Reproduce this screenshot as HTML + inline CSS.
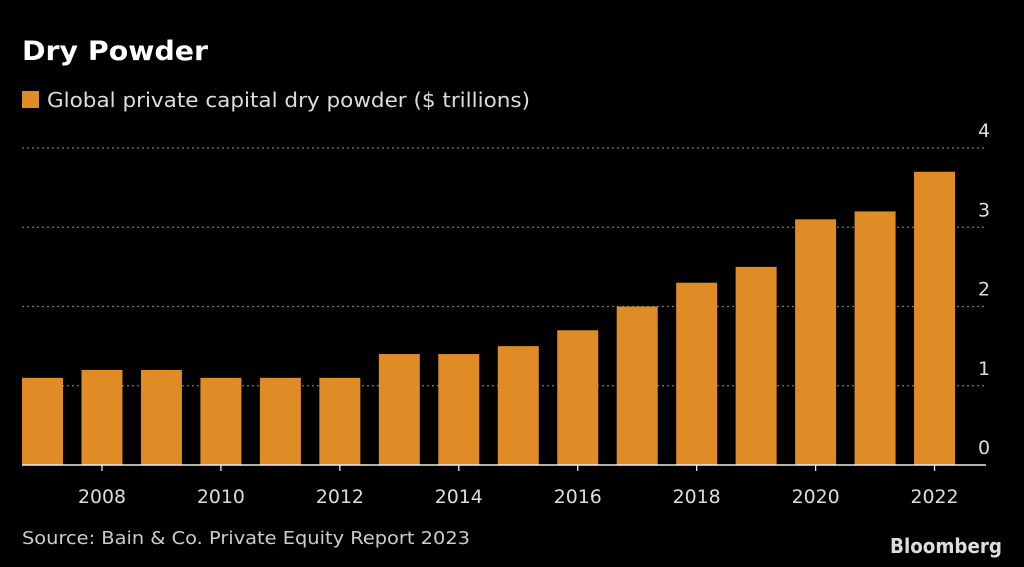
<!DOCTYPE html>
<html><head><meta charset="utf-8"><style>
html,body{margin:0;padding:0;background:#000;width:1024px;height:567px;overflow:hidden;font-family:"DejaVu Sans","Liberation Sans",sans-serif}
</style></head><body>
<svg width="1024" height="567" xmlns="http://www.w3.org/2000/svg" font-family="DejaVu Sans, Liberation Sans, sans-serif">
<text x="22" y="60" fill="#fff" font-size="27" font-weight="bold" textLength="186" lengthAdjust="spacingAndGlyphs">Dry Powder</text>
<rect x="22" y="91" width="17" height="17" fill="#DF8C27"/>
<text x="47" y="107" fill="#ddd" font-size="20" textLength="483" lengthAdjust="spacingAndGlyphs">Global private capital dry powder ($ trillions)</text>
<g id="grid"></g><g id="bars"></g><g id="axis"></g>
<text x="22" y="544" fill="#ccc" font-size="18" textLength="448" lengthAdjust="spacingAndGlyphs">Source: Bain &amp; Co. Private Equity Report 2023</text>
<text x="1002" y="553" fill="#ddd" font-size="20" font-weight="bold" text-anchor="end" textLength="112" lengthAdjust="spacingAndGlyphs">Bloomberg</text>
</svg>
<script>
const years=[2007,2008,2009,2010,2011,2012,2013,2014,2015,2016,2017,2018,2019,2020,2021,2022];
const values=[1.1,1.2,1.2,1.1,1.1,1.1,1.4,1.4,1.5,1.7,2.0,2.3,2.5,3.1,3.2,3.7];
const yTicks=[0,1,2,3,4];
const xTickYears=[2008,2010,2012,2014,2016,2018,2020,2022];
const NS="http://www.w3.org/2000/svg";
const y0=465,unit=79.25,x0=42.5,step=59.47,bw=41;
const yS=v=>y0-v*unit, xS=yr=>x0+(yr-years[0])*step;
function mk(t,a,p){const e=document.createElementNS(NS,t);for(const k in a)e.setAttribute(k,a[k]);p.appendChild(e);return e;}
const g=document.getElementById('grid'),b=document.getElementById('bars'),ax=document.getElementById('axis');
yTicks.forEach(v=>{
  if(v>0){const l=mk('line',{x1:22,x2:986,y1:yS(v),y2:yS(v),stroke:'#777','stroke-width':1.3,'stroke-dasharray':'2,3'},g);
  
  }
  const t=mk('text',{x:984,y:yS(v)-11,fill:'#ddd','font-size':19,'text-anchor':'middle'},g);
  t.textContent=v;
  
  
});
years.forEach((yr,i)=>{
  const r=mk('rect',{x:xS(yr)-bw/2,y:yS(values[i]),width:bw,height:values[i]*unit,fill:'#DF8C27'},b);
  
  
});
const base=mk('line',{x1:22,x2:986,y1:y0,y2:y0,stroke:'#eee','stroke-width':1.5},ax);


xTickYears.forEach(yr=>{
  const tk=mk('line',{x1:xS(yr),x2:xS(yr),y1:y0,y2:y0+6,stroke:'#eee','stroke-width':1.3},ax);
  
  
  const t=mk('text',{x:xS(yr),y:503,fill:'#ddd','font-size':19,'text-anchor':'middle',textLength:48,lengthAdjust:'spacingAndGlyphs'},ax);
  t.textContent=yr;
  
  
});
</script>
</body></html>
